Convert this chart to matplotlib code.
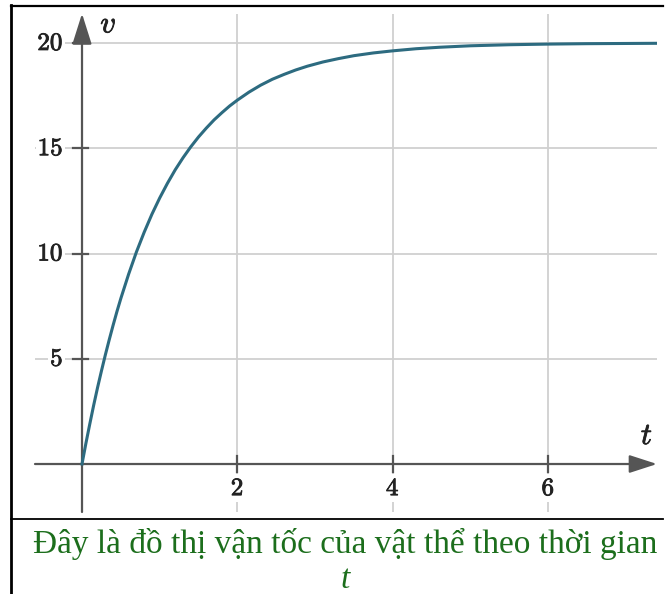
import matplotlib
matplotlib.use("Agg")
import matplotlib.pyplot as plt
from matplotlib.lines import Line2D
import matplotlib.patheffects as pe

# Data
t_vals = [0, 0.05, 0.1, 0.15, 0.2, 0.25, 0.3, 0.35, 0.4, 0.45, 0.5, 0.6, 0.7, 0.8, 0.9, 1.0,
          1.1, 1.2, 1.3, 1.4, 1.5, 1.6, 1.7, 1.8, 1.9, 2.0, 2.15, 2.3, 2.45, 2.6, 2.75, 2.9,
          3.1, 3.3, 3.5, 3.75, 4.0, 4.3, 4.6, 5.0, 5.5, 6.0, 6.5, 7.0, 7.5]
v_vals = [0, 0.98, 1.9, 2.79, 3.63, 4.42, 5.18, 5.9, 6.59, 7.25, 7.87, 9.02, 10.07, 11.01,
          11.87, 12.64, 13.34, 13.98, 14.55, 15.07, 15.54, 15.96, 16.35, 16.69, 17.01, 17.29,
          17.67, 18.0, 18.28, 18.51, 18.72, 18.9, 19.1, 19.26, 19.4, 19.53, 19.63, 19.73,
          19.8, 19.87, 19.92, 19.95, 19.97, 19.98, 19.99]
x_ticks = [2, 4, 6]
y_ticks = [5, 10, 15, 20]
caption = "Đây là đồ thị vận tốc của vật thể theo thời gian"

plt.rcParams['mathtext.fontset'] = 'cm'

fig = plt.figure(figsize=(6.65, 5.94), dpi=100)
W, H = 665, 594
def fx(px): return px / W
def fy(py): return 1 - py / H

ax = fig.add_axes([fx(35), fy(512), (657 - 35) / W, (512 - 14) / H])
ax.set_xlim(-0.605, 7.4)
ax.set_ylim(-2.28, 21.38)
ax.axis('off')

grid_c = '#d0d0d0'
axis_c = '#555555'
for xt in x_ticks:
    ax.axvline(xt, color=grid_c, lw=1.3, zorder=1)
for yt in y_ticks:
    ax.axhline(yt, color=grid_c, lw=1.3, zorder=1)

# axes with arrows
ax.annotate('', xy=(7.4, 0), xytext=(-0.605, 0), annotation_clip=False,
            arrowprops=dict(arrowstyle='-|>,head_length=1.7,head_width=0.55',
                            color=axis_c, lw=1.6, shrinkA=0, shrinkB=0), zorder=3)
ax.annotate('', xy=(0, 21.4), xytext=(0, -2.28), annotation_clip=False,
            arrowprops=dict(arrowstyle='-|>,head_length=1.9,head_width=0.6',
                            color=axis_c, lw=1.6, shrinkA=0, shrinkB=0), zorder=3)

stroke = [pe.withStroke(linewidth=0.6, foreground='#222222')]
# tick marks
for xt in x_ticks:
    ax.plot([xt, xt], [-0.38, 0.38], color=axis_c, lw=1.6, zorder=3)
    ax.text(xt, -1.15, r'$%d$' % xt, ha='center', va='center', fontsize=18,
            color='#222222', zorder=4, path_effects=stroke,
            bbox=dict(facecolor='white', edgecolor='none', pad=1.5))
for yt in y_ticks:
    ax.plot([-0.12, 0.08], [yt, yt], color=axis_c, lw=1.6, zorder=3)
    ax.text(-0.24, yt, r'$%d$' % yt, ha='right', va='center', fontsize=18,
            color='#222222', zorder=4, path_effects=stroke,
            bbox=dict(facecolor='white', edgecolor='none', pad=1.5))

ax.text(0.34, 20.9, r'$v$', ha='center', va='center', fontsize=22, color='#222222',
        path_effects=stroke)
ax.text(7.27, 1.35, r'$t$', ha='center', va='center', fontsize=22, color='#222222',
        path_effects=stroke)

ax.plot(t_vals, v_vals, color='#2d6b80', lw=2.2, zorder=5, clip_on=True,
        solid_joinstyle='round')

# table borders
fig.add_artist(Line2D([fx(11), fx(11)], [fy(5), fy(594)], color='black', lw=2))
fig.add_artist(Line2D([fx(11), fx(663)], [fy(6), fy(6)], color='black', lw=1.6))
fig.add_artist(Line2D([fx(11), fx(663)], [fy(519), fy(519)], color='black', lw=1.3))

fig.text(fx(345), fy(544), caption, ha='center', va='center', fontsize=24,
         family='Liberation Serif', color='#1c6e1c')
fig.text(fx(345), fy(580), 't', ha='center', va='center', fontsize=24,
         family='Liberation Serif', style='italic', color='#1c6e1c')

fig.savefig('out.png', dpi=100)
